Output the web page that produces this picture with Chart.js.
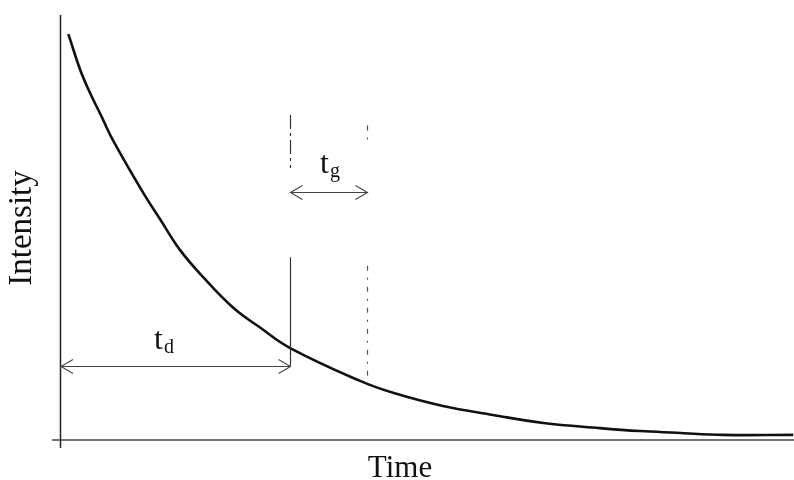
<!DOCTYPE html>
<html>
<head>
<meta charset="utf-8">
<script src="https://cdn.jsdelivr.net/npm/chart.js@4/dist/chart.umd.min.js"></script>
<style>
  html, body { margin: 0; padding: 0; background: #fff; }
  #wrap { width: 794px; height: 480px; position: relative; }
</style>
</head>
<body>
<div id="wrap"><canvas id="c"></canvas></div>
<script>
// Decay curve (time units 0..10, intensity 0..1)
const timeValues = [0.10, 0.30, 0.57, 0.71, 1.12, 1.35, 1.62, 1.94, 2.35, 2.72, 3.12, 4.08, 4.53, 5.21, 5.89, 6.58, 7.35, 7.90, 8.40, 9.03, 9.99];
const intensityValues = [0.955, 0.854, 0.755, 0.705, 0.582, 0.520, 0.448, 0.383, 0.311, 0.264, 0.217, 0.139, 0.111, 0.080, 0.059, 0.040, 0.028, 0.021, 0.017, 0.012, 0.012];

// Marker times: delay end (t_d) and gate end (t_g)
const markerTimes = [3.12, 4.17];
const arrowLevels = [0.175, 0.583];  // intensity level of the t_d and t_g arrows
const arrowLabels = [["t", "d"], ["t", "g"]];
const axisTitles = { x: "Time", y: "Intensity" };

const points = timeValues.map((t, i) => ({ x: t, y: intensityValues[i] }));

const annotate = {
  id: 'annotate',
  afterDatasetsDraw(chart) {
    const { ctx, scales: { x, y }, chartArea: a } = chart;
    ctx.save();
    // axes
    ctx.strokeStyle = '#222';
    ctx.lineWidth = 1.5;
    ctx.beginPath();
    ctx.moveTo(a.left - 0.5, a.top); ctx.lineTo(a.left - 0.5, a.bottom + 8);
    ctx.stroke();
    ctx.strokeStyle = '#444';
    ctx.beginPath();
    ctx.moveTo(a.left - 9, a.bottom); ctx.lineTo(a.right, a.bottom);
    ctx.stroke();

    // vertical marker lines
    const xd = Math.round(x.getPixelForValue(markerTimes[0])) + 0.5;
    const xg = Math.round(x.getPixelForValue(markerTimes[1])) + 0.5;
    ctx.lineWidth = 1.2;
    ctx.strokeStyle = '#333';
    ctx.setLineDash([14, 4, 3, 4]);
    ctx.beginPath(); ctx.moveTo(xd, y.getPixelForValue(0.765)); ctx.lineTo(xd, y.getPixelForValue(0.64)); ctx.stroke();
    ctx.setLineDash([]);
    ctx.beginPath(); ctx.moveTo(xd, y.getPixelForValue(0.43)); ctx.lineTo(xd, y.getPixelForValue(arrowLevels[0])); ctx.stroke();
    ctx.strokeStyle = '#555';
    ctx.setLineDash([5, 7, 2, 7]);
    ctx.beginPath(); ctx.moveTo(xg, y.getPixelForValue(0.74)); ctx.lineTo(xg, y.getPixelForValue(0.70)); ctx.stroke();
    ctx.beginPath(); ctx.moveTo(xg, y.getPixelForValue(0.41)); ctx.lineTo(xg, y.getPixelForValue(0.14)); ctx.stroke();
    ctx.setLineDash([]);

    // double arrows
    const arrow = (x1, x2, yy) => {
      ctx.strokeStyle = '#444';
      ctx.lineWidth = 1.1;
      ctx.beginPath(); ctx.moveTo(x1, yy); ctx.lineTo(x2, yy); ctx.stroke();
      ctx.beginPath();
      ctx.moveTo(x1 + 12, yy - 7); ctx.lineTo(x1, yy); ctx.lineTo(x1 + 12, yy + 7);
      ctx.moveTo(x2 - 12, yy - 7); ctx.lineTo(x2, yy); ctx.lineTo(x2 - 12, yy + 7);
      ctx.stroke();
    };
    const yd = Math.round(y.getPixelForValue(arrowLevels[0])) + 0.5;
    const yg = Math.round(y.getPixelForValue(arrowLevels[1])) + 0.5;
    arrow(a.left, xd, yd);
    arrow(xd, xg, yg);

    // arrow labels
    ctx.fillStyle = '#111';
    ctx.textBaseline = 'alphabetic';
    ctx.textAlign = 'left';
    const label = (parts, lx, by) => {
      ctx.font = '32px "Liberation Serif", "Times New Roman", serif';
      ctx.fillText(parts[0], lx, by);
      const w = ctx.measureText(parts[0]).width;
      ctx.font = '20px "Liberation Serif", "Times New Roman", serif';
      ctx.fillText(parts[1], lx + w + 1, by + 4);
    };
    label(arrowLabels[0], 154, yd - 18);
    label(arrowLabels[1], 320, yg - 20);

    // axis titles
    ctx.font = '31px "Liberation Serif", "Times New Roman", serif';
    ctx.textAlign = 'center';
    ctx.fillText(axisTitles.x, 400, 477);
    ctx.save();
    ctx.translate(31, 228);
    ctx.rotate(-Math.PI / 2);
    ctx.font = '33px "Liberation Serif", "Times New Roman", serif';
    ctx.fillText(axisTitles.y, 0, 0);
    ctx.restore();
    ctx.restore();
  }
};

new Chart(document.getElementById('c'), {
  type: 'line',
  data: {
    datasets: [{
      data: points,
      borderColor: '#111',
      borderWidth: 2.6,
      pointRadius: 0,
      fill: false,
      tension: 0.4
    }]
  },
  options: {
    responsive: true,
    maintainAspectRatio: false,
    animation: false,
    layout: { padding: { left: 61, right: 0, top: 15, bottom: 40 } },
    plugins: { legend: { display: false }, tooltip: { enabled: false } },
    scales: {
      x: { type: 'linear', min: 0, max: 10, display: false },
      y: { type: 'linear', min: 0, max: 1, display: false }
    }
  },
  plugins: [annotate]
});
</script>
</body>
</html>
